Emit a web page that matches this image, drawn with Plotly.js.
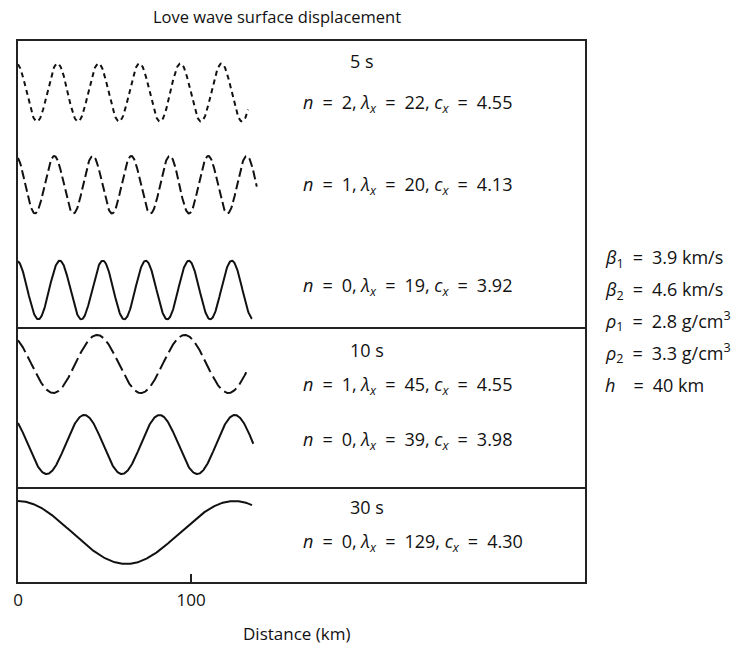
<!DOCTYPE html>
<html>
<head>
<meta charset="utf-8">
<script src="https://cdn.plot.ly/plotly-3.0.1.min.js"></script>
<style>
  html, body { margin: 0; padding: 0; background: #fff; }
  #chart { width: 738px; height: 649px; }
</style>
</head>
<body>
<div id="chart"></div>
<script>
// Love-wave modes, top to bottom: period group, mode number, wavelength, phase velocity
const periodLabels = ['5 s', '10 s', '30 s'];
const modeN = [2, 1, 0, 1, 0, 0];
const lambdaX = [22, 20, 19, 45, 39, 129];
const cX = ['4.55', '4.13', '3.92', '4.55', '3.98', '4.30'];

// Wave shape as drawn along the distance axis (km)
const crestSpacingKm = [23.7, 22.25, 24.85, 50.6, 43.5, 125];
const firstCrestKm = [-0.9, -1.3, -0.7, -4.9, -5.2, 0];
const waveEndKm = [133.1, 138, 135.3, 133.1, 136, 135.3];

// Model parameters listed beside the plot
const EQ = '\u2002=\u2002';
const modelParams = [
  '<i>β</i><sub>1</sub>' + EQ + '3.9 km/s',
  '<i>β</i><sub>2</sub>' + EQ + '4.6 km/s',
  '<i>ρ</i><sub>1</sub>' + EQ + '2.8 g/cm<sup>3</sup>',
  '<i>ρ</i><sub>2</sub>' + EQ + '3.3 g/cm<sup>3</sup>',
  '<i>h</i>\u2002\u2002=\u2002' + '40 km'
];

const xTicks = [0, 100];

// ---- layout geometry (vertical units = pixels above the bottom of the frame) ----
const X_MAX = 327.7;
const Y_MAX = 541;
const baselines = [489.5, 397.3, 292, 218, 137.5, 49.5];
const amplitudes = [29, 28.7, 29.3, 29, 29.5, 31.5];
const dashes = ['5px,4px', '9px,4px', 'solid', '14px,5px', 'solid', 'solid'];
const groupDividers = [254, 94];
const periodLabelY = [521, 232, 75];
const modeLabelY = [479, 397, 296, 197, 142, 40];
const paramY = [324, 292, 261, 229, 197];

const font = 'Open Sans, Noto Sans, DejaVu Sans, sans-serif';
const ink = '#111';
const labelSize = 18;

const traces = crestSpacingKm.map((P, i) => {
  const xs = [], ys = [];
  const step = 0.25;
  for (let x = 0; x <= waveEndKm[i] + 1e-9; x += step) {
    xs.push(x);
    ys.push(baselines[i] + amplitudes[i] * Math.cos(2 * Math.PI * (x - firstCrestKm[i]) / P));
  }
  return {
    x: xs, y: ys, type: 'scatter', mode: 'lines',
    line: { color: ink, width: 2, dash: dashes[i] },
    hoverinfo: 'skip', showlegend: false
  };
});

const annotations = [];
periodLabels.forEach((t, g) => {
  annotations.push({
    x: 190.8, y: periodLabelY[g], xref: 'x', yref: 'y', text: t,
    showarrow: false, xanchor: 'left', yanchor: 'middle',
    font: { family: font, size: labelSize, color: ink }
  });
});
modeN.forEach((n, i) => {
  annotations.push({
    x: 163.8, y: modeLabelY[i], xref: 'x', yref: 'y',
    text: '<i>n</i>' + EQ + n + ', <i>λ<sub>x</sub></i>' + EQ + lambdaX[i] +
          ', <i>c<sub>x</sub></i>' + EQ + cX[i],
    showarrow: false, xanchor: 'left', yanchor: 'middle',
    font: { family: font, size: labelSize, color: ink }
  });
});
modelParams.forEach((t, k) => {
  annotations.push({
    x: (603 - 18) / 567, y: paramY[k] / Y_MAX, xref: 'paper', yref: 'paper', text: t,
    showarrow: false, xanchor: 'left', yanchor: 'middle',
    font: { family: font, size: labelSize, color: ink }
  });
});
annotations.push({
  x: (296 - 18) / 567, y: -52 / Y_MAX, xref: 'paper', yref: 'paper', text: 'Distance (km)',
  showarrow: false, xanchor: 'center', yanchor: 'middle',
  font: { family: font, size: 17, color: ink }
});

const shapes = groupDividers.map(y => ({
  type: 'line', xref: 'paper', yref: 'y', x0: 0, x1: 1, y0: y, y1: y,
  line: { color: '#222', width: 2 }
}));

const layout = {
  width: 738, height: 649,
  margin: { l: 18, r: 153, t: 41, b: 67 },
  paper_bgcolor: '#fff', plot_bgcolor: '#fff',
  title: {
    text: 'Love wave surface displacement',
    font: { family: font, size: 16.5, color: ink },
    x: 277 / 738, xanchor: 'center', xref: 'container',
    y: 1 - 17 / 649, yanchor: 'middle', yref: 'container'
  },
  xaxis: {
    range: [0, X_MAX], tickvals: xTicks, ticktext: xTicks.map(String),
    ticks: 'inside', ticklen: 8, tickwidth: 1.5, tickcolor: '#222',
    showline: true, linecolor: '#222', linewidth: 2, mirror: true,
    showgrid: false, zeroline: false, fixedrange: true,
    tickfont: { family: font, size: 17, color: ink }, ticklabelstandoff: 2
  },
  yaxis: {
    range: [0, Y_MAX], showticklabels: false, ticks: '',
    showline: true, linecolor: '#222', linewidth: 2, mirror: true,
    showgrid: false, zeroline: false, fixedrange: true
  },
  shapes: shapes,
  annotations: annotations,
  showlegend: false
};

Plotly.newPlot('chart', traces, layout, { displayModeBar: false, staticPlot: true });
</script>
</body>
</html>
